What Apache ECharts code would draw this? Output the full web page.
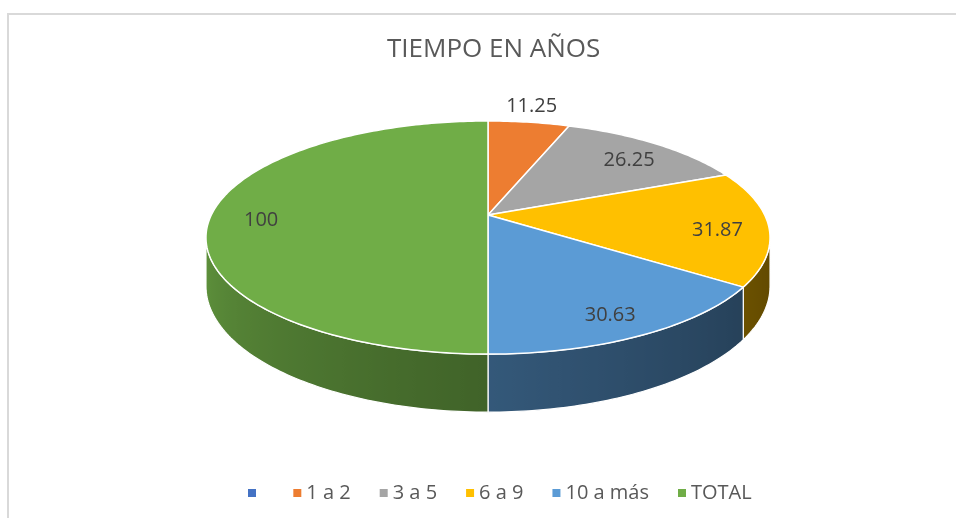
<!DOCTYPE html>
<html>
<head>
<meta charset="utf-8">
<script src="https://cdn.jsdelivr.net/npm/echarts@6/dist/echarts.min.js"></script>
<style>
  html, body { margin: 0; height: 100%; background: #fff; }
  #main { width: 956px; height: 518px; }
</style>
</head>
<body>
<div id="main"></div>
<script>
var categories = ['\u2009', '1 a 2', '3 a 5', '6 a 9', '10 a más', 'TOTAL'];
var values = [0, 11.25, 26.25, 31.87, 30.63, 100];
var colors = ['#4472C4', '#ED7D31', '#A5A5A5', '#FFC000', '#5B9BD5', '#70AD47'];

var chart = echarts.init(document.getElementById('main'));

// tilted disc, seen in perspective (Excel 3-D pie look)
var CX = 488, CY = 215, RX = 276.7, RY = 112.2, PERSP = 0.1935, DEPTH = 46.8;
var FONT = '"Open Sans", sans-serif';

function proj(th, r) {
    var w = 1 + PERSP * r * Math.cos(th);
    return [CX + RX * r * Math.sin(th) / w, CY - RY * r * Math.cos(th) / w];
}
function down(th) {
    var w = 1 + PERSP * Math.cos(th);
    return DEPTH / w;
}
function arc(a0, a1) {
    var n = Math.max(2, Math.ceil((a1 - a0) / (Math.PI / 180)));
    var pts = [];
    for (var i = 0; i <= n; i++) pts.push(a0 + (a1 - a0) * i / n);
    return pts;
}
function shade(hex, f) {
    var c = parseInt(hex.slice(1), 16);
    var r = Math.round(((c >> 16) & 255) * f), g = Math.round(((c >> 8) & 255) * f), b = Math.round((c & 255) * f);
    return 'rgb(' + r + ',' + g + ',' + b + ')';
}

var total = values.reduce(function (s, v) { return s + v; }, 0);
var thR = Math.acos(-PERSP), thL = 2 * Math.PI - thR;   // silhouette tangents

function renderSlice(params, api) {
    var i = params.dataIndex;
    var v = api.value(0);
    if (!v) return null;
    var before = 0;
    for (var j = 0; j < i; j++) before += values[j];
    var a0 = before / total * 2 * Math.PI;
    var a1 = (before + v) / total * 2 * Math.PI;
    var col = colors[i];
    var children = [];

    // side wall (only the part facing us)
    var s0 = Math.max(a0, thR), s1 = Math.min(a1, thL);
    if (s1 > s0) {
        var ths = arc(s0, s1);
        var topPts = ths.map(function (t) { return proj(t, 1); });
        var botPts = ths.map(function (t) { var p = proj(t, 1); return [p[0], p[1] + down(t)]; });
        var xs = topPts.map(function (p) { return p[0]; });
        var xmin = Math.min.apply(null, xs), xmax = Math.max.apply(null, xs);
        var stops = ths.map(function (t, k) {
            var u = (t - thR) / (thL - thR);
            var f = 0.38 + 0.47 * Math.pow(Math.max(0, u), 1.3);
            return { offset: xmax > xmin ? (xs[k] - xmin) / (xmax - xmin) : 0, color: shade(col, f) };
        }).sort(function (a, b) { return a.offset - b.offset; });
        children.push({
            type: 'polygon', z2: 1,
            shape: { points: topPts.concat(botPts.reverse()) },
            style: {
                fill: { type: 'linear', x: 0, y: 0, x2: 1, y2: 0, colorStops: stops },
                stroke: '#fff', lineWidth: 1.2, lineJoin: 'round'
            }
        });
    }

    // top face
    var top = [proj(0, 0)].concat(arc(a0, a1).map(function (t) { return proj(t, 1); }));
    children.push({
        type: 'polygon', z2: 10,
        shape: { points: top },
        style: { fill: col, stroke: '#fff', lineWidth: 1.5, lineJoin: 'round' }
    });

    // data label: inside, or outside for small slices
    var mid = (a0 + a1) / 2, pos;
    if (v / total < 0.08) {
        var e = proj(mid, 1);
        pos = [e[0] + 16 * Math.sin(mid), e[1] - 16 * Math.cos(mid)];
    } else {
        pos = proj(mid, 0.82);
        pos[1] += 5;
    }
    children.push({
        type: 'text', z2: 20,
        style: {
            text: String(v), x: pos[0], y: pos[1],
            fill: '#404040', fontSize: 20, fontFamily: FONT,
            align: 'center', verticalAlign: 'middle',
            textAlign: 'center', textVerticalAlign: 'middle'
        }
    });
    return { type: 'group', children: children };
}

var option = {
    animation: false,
    color: colors,
    title: {
        text: 'TIEMPO EN AÑOS',
        left: 382, top: 32,
        textStyle: { color: '#595959', fontSize: 26, fontWeight: 'normal', fontFamily: FONT }
    },
    legend: {
        data: categories,
        top: 478, left: 243,
        icon: 'rect', itemWidth: 8, itemHeight: 8, itemGap: 29,
        selectedMode: false,
        textStyle: { color: '#595959', fontSize: 20, fontFamily: FONT }
    },
    graphic: [{
        type: 'rect', silent: true,
        shape: { x: 8, y: 14, width: 1100, height: 700 },
        style: { fill: 'none', stroke: '#d9d9d9', lineWidth: 2 }
    }],
    series: [
        {
            // only feeds the legend with the slice names and colours
            type: 'pie', radius: [0, 0], silent: true,
            label: { show: false }, labelLine: { show: false },
            data: categories.map(function (c, i) { return { name: c, value: values[i] }; })
        },
        {
            type: 'custom', coordinateSystem: 'none',
            renderItem: renderSlice,
            data: values.map(function (v) { return [v]; })
        }
    ]
};
chart.setOption(option);
</script>
</body>
</html>
